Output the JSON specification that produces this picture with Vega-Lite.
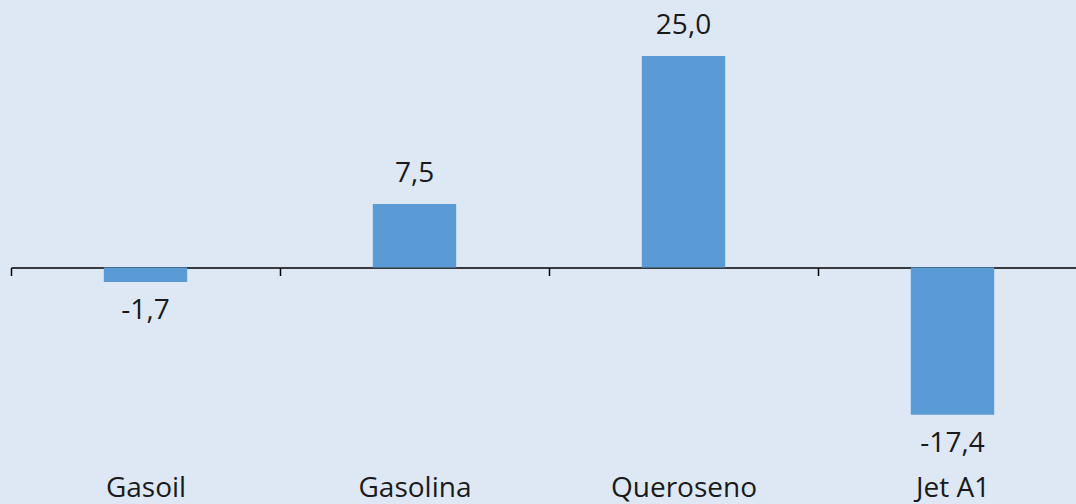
{
  "$schema": "https://vega.github.io/schema/vega-lite/v6.json",
  "width": 1076,
  "height": 504,
  "autosize": {"type": "none"},
  "padding": {"left": 11, "top": 0, "right": 0, "bottom": 0},
  "background": "#DEE8F5",
  "config": {
    "view": {"stroke": null},
    "font": "Open Sans",
    "locale": {"number": {"decimal": ",", "thousands": ".", "grouping": [3], "currency": ["", " €"], "minus": "-"}}
  },
  "data": {
    "values": [
      {"producto": "Gasoil", "valor": -1.7},
      {"producto": "Gasolina", "valor": 7.5},
      {"producto": "Queroseno", "valor": 25.0},
      {"producto": "Jet A1", "valor": -17.4}
    ]
  },
  "encoding": {
    "x": {
      "field": "producto",
      "type": "nominal",
      "sort": null,
      "title": null,
      "scale": {"paddingInner": 0.69, "paddingOuter": 0.345},
      "axis": {
        "orient": "bottom",
        "offset": -236.5,
        "tickOffset": -134.5,
        "labelOffset": 134.5,
        "domainColor": "#000000",
        "domainWidth": 1.5,
        "tickColor": "#000000",
        "tickWidth": 1.5,
        "tickSize": 8,
        "labelPadding": 199,
        "labelAngle": 0,
        "labelFontSize": 28,
        "labelFont": "Open Sans",
        "labelColor": "#1a1a1a",
        "labelBaseline": "top"
      }
    },
    "y": {
      "field": "valor",
      "type": "quantitative",
      "scale": {"domain": [-27.95, 31.62], "nice": false, "zero": false},
      "axis": null
    }
  },
  "layer": [
    {"mark": {"type": "bar", "color": "#5B9BD5"}, "encoding": {"y2": {"datum": 0}}},
    {
      "transform": [{"filter": "datum.valor >= 0"}],
      "mark": {"type": "text", "fontSize": 28, "color": "#1a1a1a", "baseline": "middle", "dy": -30},
      "encoding": {"text": {"field": "valor", "type": "quantitative", "format": ".1f"}}
    },
    {
      "transform": [{"filter": "datum.valor < 0"}],
      "mark": {"type": "text", "fontSize": 28, "color": "#1a1a1a", "baseline": "middle", "dy": 29},
      "encoding": {"text": {"field": "valor", "type": "quantitative", "format": ".1f"}}
    }
  ]
}
